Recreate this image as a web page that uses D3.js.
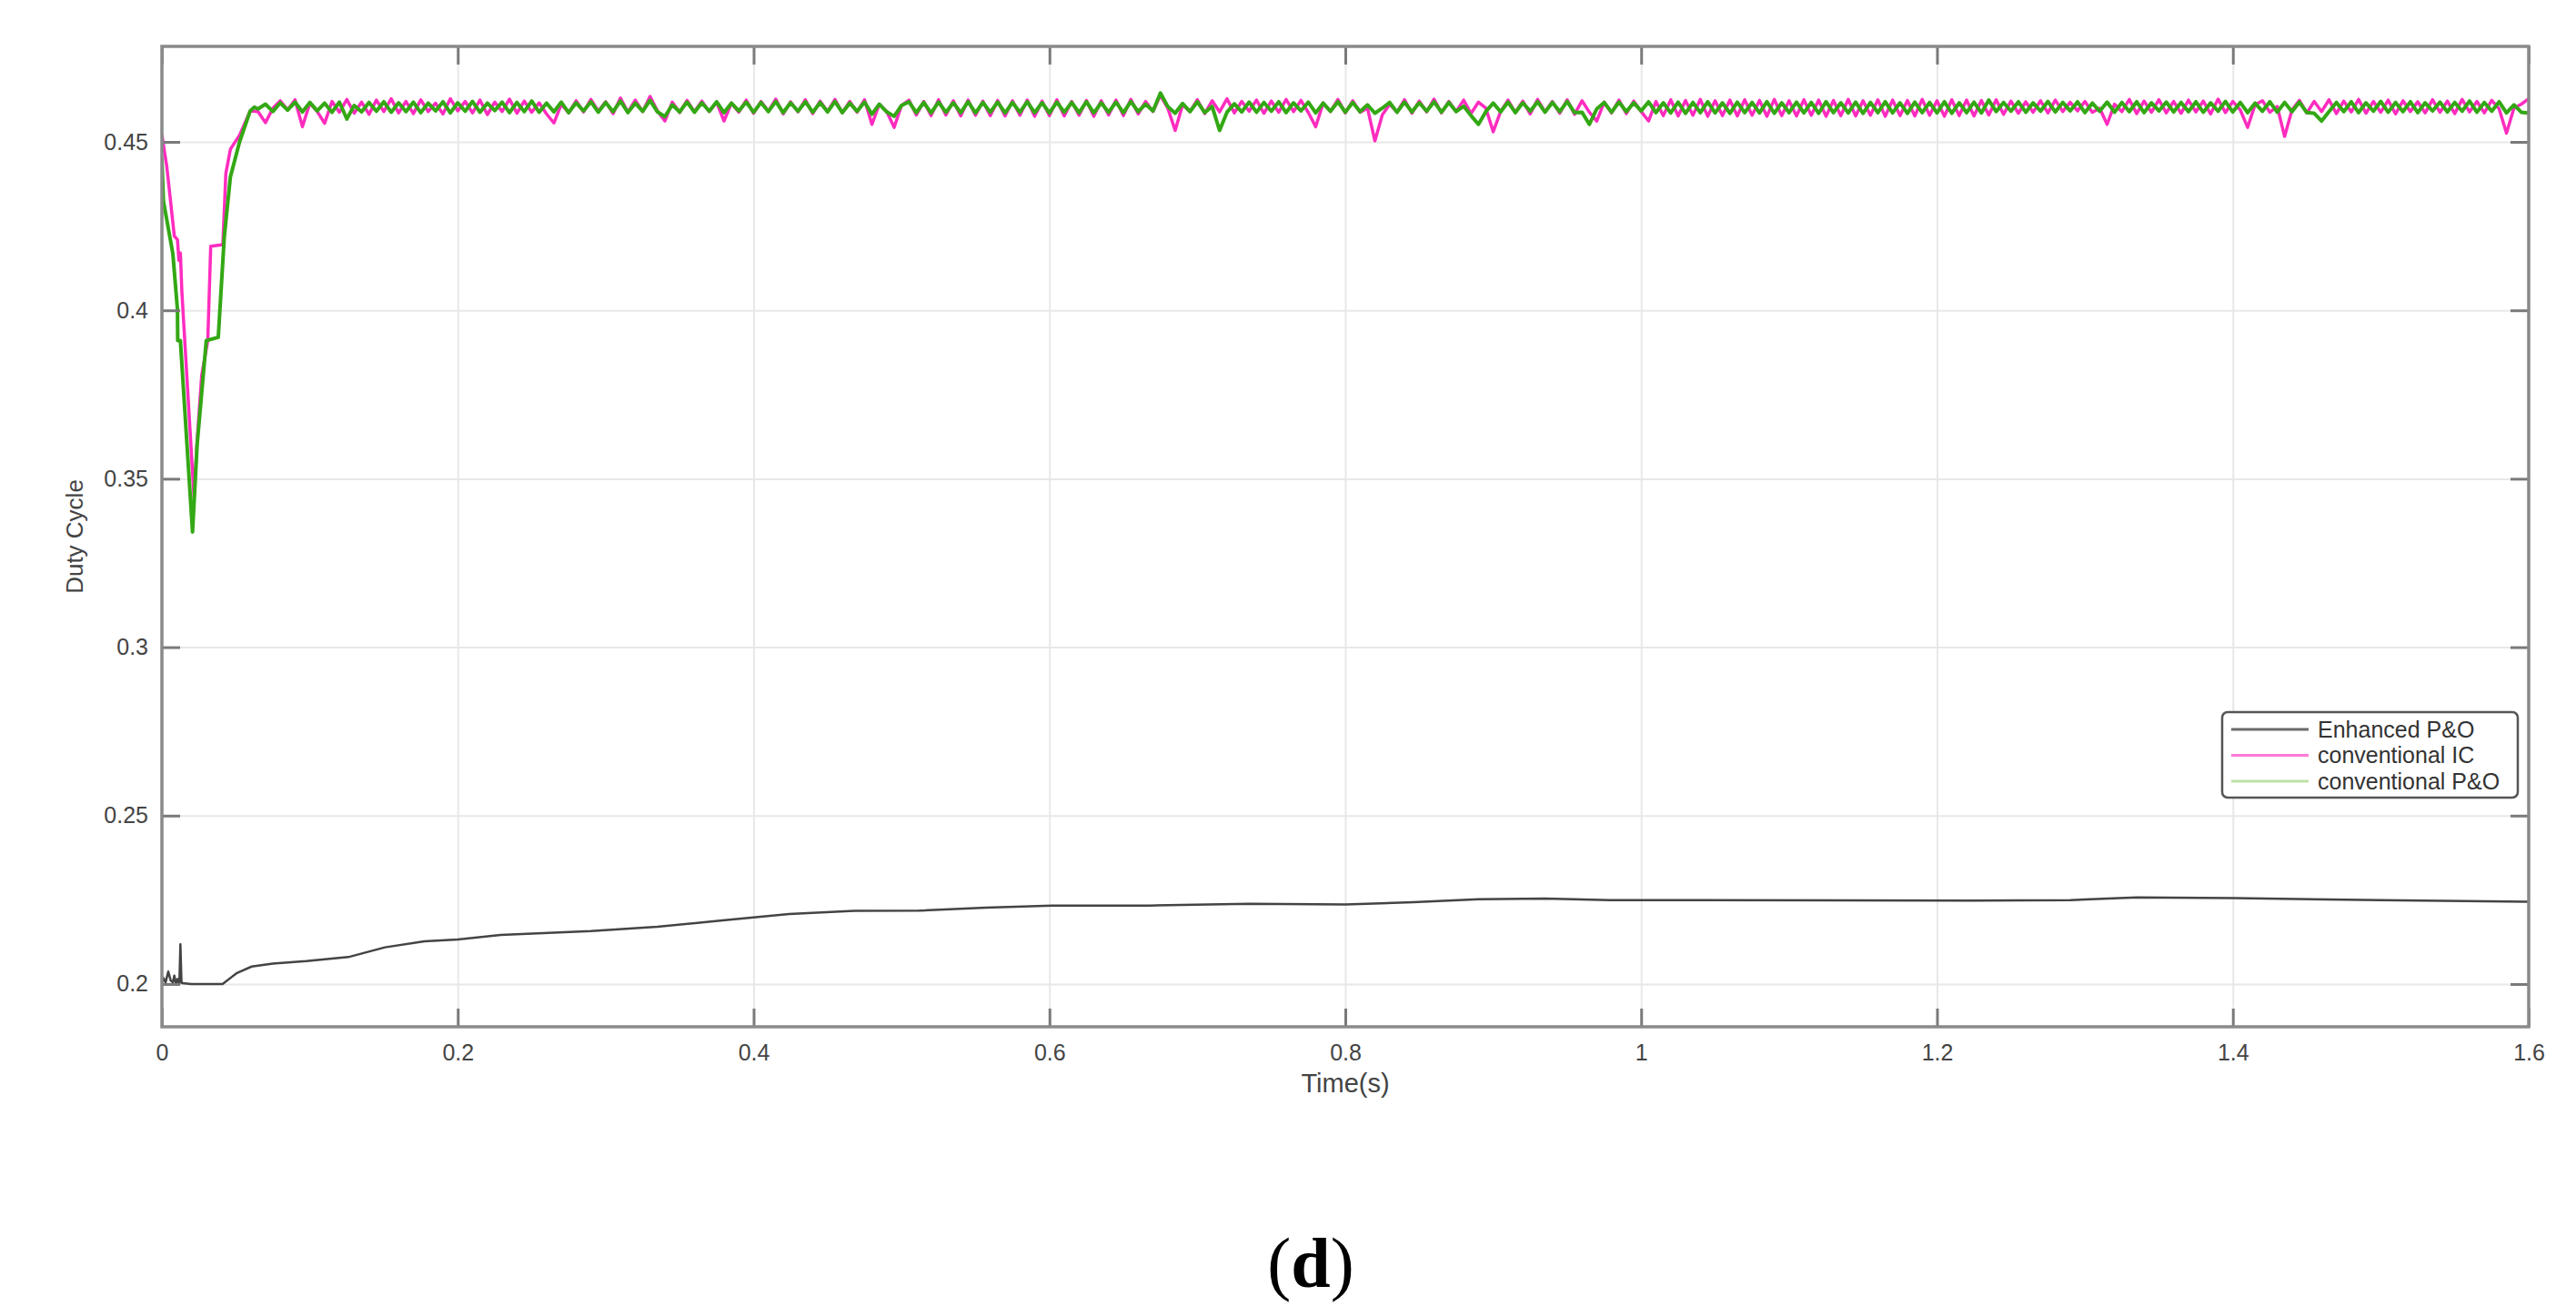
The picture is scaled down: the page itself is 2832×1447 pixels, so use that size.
<!DOCTYPE html>
<html>
<head>
<meta charset="utf-8">
<style>
body{
  margin: 0;
  background-color: white;
}
svg{
  display: block;
}
.grid .tick line{
  stroke: #e8e8e8;
  stroke-width: 2px;
}
.grid path{
  stroke-width: 0;
}
.tick-axis path{
  stroke-width: 0;
}
.tick-axis .tick line{
  stroke: #7a7a7a;
  stroke-width: 3px;
}
.tick-axis text{
  font-family: "Liberation Sans", Arial, sans-serif;
  font-size: 25px;
  fill: #444;
}
.series{
  fill: none;
  stroke-linejoin: round;
  stroke-linecap: round;
}
</style>
</head>
<body>
<script src="https://cdn.jsdelivr.net/npm/d3@7"></script>
<script>
  var WIDTH = 2832;
  var HEIGHT = 1447;
  var LEFT = 178, RIGHT = 2780, TOP = 51, BOTTOM = 1129;

  var xTicks = [0, 0.2, 0.4, 0.6, 0.8, 1, 1.2, 1.4, 1.6];
  var yTicks = [0.2, 0.25, 0.3, 0.35, 0.4, 0.45];
  var legendNames = ["Enhanced P&O", "conventional IC", "conventional P&O"];

  // enhanced P&O (black)
  var enhT = [0, 0.0008, 0.0025, 0.0043, 0.006, 0.0074, 0.0084, 0.0095, 0.0105, 0.0118, 0.0125, 0.0132, 0.0135,
    0.02, 0.041, 0.0504, 0.0607, 0.075, 0.0976, 0.126, 0.1508, 0.1775, 0.2, 0.229, 0.29, 0.335, 0.379, 0.424,
    0.468, 0.512, 0.557, 0.602, 0.668, 0.735, 0.8, 0.846, 0.89, 0.935, 0.979, 1.046, 1.224, 1.29, 1.335, 1.401, 1.5, 1.6];
  var enhV = [0.2, 0.2019, 0.2005, 0.2037, 0.201, 0.2005, 0.2025, 0.2, 0.2015, 0.2, 0.2118, 0.201, 0.2003,
    0.2, 0.2, 0.2032, 0.2052, 0.2061, 0.2068, 0.208, 0.2109, 0.2127, 0.2132, 0.2146, 0.2157, 0.217, 0.2189, 0.2208,
    0.2217, 0.2218, 0.2227, 0.2233, 0.2233, 0.2238, 0.2236, 0.2243, 0.2252, 0.2254, 0.2249, 0.2249, 0.2248, 0.2249, 0.2257, 0.2255, 0.2249, 0.2244];

  // start-up transients
  var icStartT = [0, 0.0033, 0.0084, 0.0105, 0.0115, 0.0125, 0.0135, 0.0217, 0.0238, 0.0269, 0.031, 0.033, 0.0412, 0.0432, 0.0463, 0.0525, 0.0597];
  var icStartV = [0.452, 0.4427, 0.422, 0.421, 0.4148, 0.417, 0.4055, 0.3445, 0.3612, 0.3807, 0.391, 0.419, 0.4195, 0.4406, 0.4478, 0.452, 0.4592];
  var poStartT = [0, 0.001, 0.0074, 0.0105, 0.0107, 0.0125, 0.0207, 0.0238, 0.03, 0.0381, 0.0422, 0.0463, 0.0525, 0.0597, 0.0625];
  var poStartV = [0.4448, 0.4325, 0.4168, 0.4003, 0.391, 0.391, 0.3342, 0.36, 0.391, 0.392, 0.422, 0.4396, 0.45, 0.4592, 0.4603];

  // steady state, sampled every 5 ms from 0.065 s
  var SS_START = 0.065, SS_STEP = 0.005;
  var icSteady = [
    .4590,.4557,.4600,.4622,.4595,.4625,.4545,.4615,.4590,.4555,.4620,.4588,.4626,.4585,.4618,.4582,.4624,.4590,.4628,.4586,
    .4620,.4584,.4625,.4590,.4615,.4583,.4628,.4592,.4620,.4586,.4624,.4581,.4618,.4590,.4627,.4585,.4621,.4588,.4616,.4583,
    .4556,.4612,.4586,.4622,.4589,.4626,.4591,.4619,.4584,.4630,.4588,.4624,.4590,.4635,.4592,.4562,.4618,.4587,.4623,.4589,
    .4621,.4590,.4618,.4562,.4615,.4588,.4624,.4585,.4620,.4591,.4627,.4583,.4619,.4589,.4625,.4584,.4621,.4590,.4626,.4586,
    .4620,.4588,.4625,.4552,.4612,.4590,.4543,.4608,.4624,.4580,.4620,.4578,.4625,.4580,.4622,.4577,.4624,.4579,.4621,.4578,
    .4623,.4577,.4622,.4579,.4624,.4576,.4621,.4578,.4625,.4577,.4620,.4579,.4623,.4576,.4622,.4580,.4624,.4578,.4626,.4583,
    .4620,.4590,.4638,.4600,.4534,.4610,.4590,.4625,.4584,.4622,.4589,.4628,.4586,.4620,.4591,.4624,.4585,.4621,.4588,.4626,
    .4590,.4623,.4587,.4545,.4615,.4590,.4626,.4586,.4622,.4588,.4600,.4503,.4580,.4612,.4588,.4625,.4585,.4621,.4589,.4627,
    .4586,.4620,.4590,.4624,.4584,.4618,.4600,.4530,.4590,.4624,.4587,.4621,.4583,.4626,.4589,.4620,.4585,.4625,.4582,.4622,
    .4588,.4562,.4618,.4586,.4624,.4584,.4621,.4590,.4562,.4620,.4578,.4625,.4577,.4623,.4579,.4626,.4576,.4622,.4578,.4624,
    .4577,.4625,.4579,.4623,.4576,.4626,.4578,.4622,.4577,.4625,.4579,.4624,.4576,.4623,.4578,.4626,.4577,.4622,.4579,.4625,
    .4576,.4624,.4578,.4623,.4577,.4626,.4579,.4622,.4576,.4625,.4578,.4624,.4577,.4623,.4580,.4625,.4582,.4621,.4585,.4619,
    .4588,.4622,.4586,.4624,.4590,.4618,.4592,.4620,.4588,.4600,.4552,.4612,.4590,.4626,.4584,.4621,.4588,.4625,.4586,.4620,
    .4585,.4624,.4589,.4621,.4583,.4627,.4587,.4620,.4595,.4543,.4610,.4622,.4588,.4605,.4516,.4595,.4623,.4586,.4620,.4590,
    .4625,.4584,.4621,.4589,.4626,.4585,.4620,.4588,.4624,.4583,.4622,.4590,.4619,.4586,.4625,.4588,.4621,.4584,.4626,.4589,
    .4620,.4586,.4623,.4598,.4526,.4600,.4612,.4628];
  var poSteady = [
    .4598,.4612,.4590,.4616,.4594,.4618,.4589,.4617,.4592,.4615,.4588,.4618,.4568,.4608,.4589,.4617,.4591,.4619,.4588,.4616,
    .4590,.4618,.4587,.4615,.4592,.4619,.4586,.4616,.4591,.4620,.4588,.4615,.4593,.4618,.4587,.4617,.4590,.4621,.4588,.4615,
    .4589,.4618,.4587,.4616,.4592,.4619,.4588,.4617,.4590,.4621,.4587,.4615,.4591,.4623,.4589,.4575,.4610,.4589,.4618,.4588,
    .4616,.4591,.4619,.4587,.4615,.4592,.4618,.4588,.4617,.4590,.4620,.4587,.4616,.4591,.4619,.4588,.4617,.4589,.4620,.4587,
    .4615,.4591,.4618,.4582,.4612,.4589,.4576,.4608,.4619,.4587,.4617,.4586,.4618,.4588,.4616,.4587,.4619,.4586,.4617,.4588,
    .4618,.4586,.4617,.4588,.4619,.4587,.4616,.4586,.4618,.4588,.4617,.4587,.4619,.4586,.4616,.4588,.4618,.4587,.4620,.4590,
    .4612,.4592,.4645,.4605,.4585,.4614,.4590,.4619,.4587,.4605,.4534,.4588,.4613,.4589,.4618,.4588,.4617,.4591,.4619,.4587,
    .4616,.4592,.4618,.4586,.4615,.4591,.4619,.4588,.4617,.4590,.4610,.4585,.4600,.4617,.4588,.4618,.4589,.4616,.4591,.4619,
    .4588,.4617,.4590,.4606,.4578,.4552,.4590,.4615,.4589,.4618,.4587,.4616,.4591,.4619,.4588,.4617,.4590,.4620,.4587,.4588,
    .4552,.4598,.4617,.4588,.4618,.4590,.4616,.4592,.4619,.4587,.4616,.4586,.4618,.4585,.4617,.4587,.4619,.4586,.4616,.4585,
    .4618,.4587,.4617,.4586,.4619,.4585,.4616,.4587,.4618,.4586,.4617,.4585,.4619,.4587,.4616,.4586,.4618,.4585,.4617,.4587,
    .4619,.4586,.4616,.4585,.4618,.4587,.4617,.4586,.4619,.4585,.4616,.4587,.4618,.4586,.4624,.4590,.4617,.4591,.4619,.4588,
    .4616,.4591,.4620,.4589,.4617,.4592,.4619,.4587,.4615,.4591,.4618,.4588,.4617,.4590,.4619,.4587,.4616,.4592,.4618,.4589,
    .4617,.4590,.4619,.4588,.4616,.4591,.4620,.4589,.4617,.4587,.4615,.4591,.4619,.4588,.4617,.4590,.4618,.4587,.4585,.4562,
    .4590,.4617,.4590,.4619,.4587,.4616,.4591,.4620,.4588,.4617,.4590,.4619,.4587,.4616,.4592,.4618,.4589,.4617,.4591,.4621,
    .4588,.4617,.4591,.4619,.4586,.4610,.4588,.4586];

  var COLORS = ["#444444", "#ff2cbf", "#33a814"];
  var WIDTHS = [2.5, 3.5, 4];
  var LEGEND_COLORS = ["#6a6a6a", "#ff7ad8", "#bde3a6"];

  function joinSeries(startT, startV, steady){
    var pts = startT.map((t, i) => [t, startV[i]]);
    steady.forEach((v, i) => pts.push([SS_START + i * SS_STEP, v]));
    return pts;
  }

  var enhPoints = enhT.map((t, i) => [t, enhV[i]]);
  var icPoints = joinSeries(icStartT, icStartV, icSteady);
  var poPoints = joinSeries(poStartT, poStartV, poSteady);

  var xScale = d3.scaleLinear()
    .domain([0, 1.6])
    .range([LEFT, RIGHT]);

  var yScale = d3.scaleLinear()
    .domain([0.18731, 0.47835])
    .range([BOTTOM, TOP]);

  var valueline = d3.line()
    .x(function(d) { return xScale(d[0]); })
    .y(function(d) { return yScale(d[1]); });

  var svg = d3.select("body").append("svg")
    .attr("width", WIDTH)
    .attr("height", HEIGHT);

  svg.append("rect")
    .attr("width", WIDTH).attr("height", HEIGHT)
    .attr("fill", "white");

  svg.append("defs").append("clipPath")
    .attr("id", "plotClip")
    .append("rect")
      .attr("x", LEFT).attr("y", TOP)
      .attr("width", RIGHT - LEFT).attr("height", BOTTOM - TOP);

  drawGrid();
  drawLines();
  drawAxes();
  drawLegend();
  drawLabels();

  function drawGrid(){
    svg.append("g")
      .attr("class", "grid")
      .attr("transform", `translate(0,${BOTTOM})`)
      .call(d3.axisBottom(xScale).tickValues(xTicks).tickSize(-(BOTTOM - TOP)).tickFormat(""));

    svg.append("g")
      .attr("class", "grid")
      .attr("transform", `translate(${LEFT},0)`)
      .call(d3.axisLeft(yScale).tickValues(yTicks).tickSize(-(RIGHT - LEFT)).tickFormat(""));
  }

  function drawLines(){
    var plotArea = svg.append("g")
      .attr("clip-path", "url(#plotClip)");

    plotArea.selectAll("path.series")
      .data([enhPoints, icPoints, poPoints])
      .enter()
      .append("path")
        .attr("class", "series")
        .attr("d", (d) => valueline(d))
        .attr("stroke", (d, i) => COLORS[i])
        .attr("stroke-width", (d, i) => WIDTHS[i]);
  }

  function drawAxes(){
    var fmt = (d) => d3.format("")(+d.toFixed(2));

    // ticks point inward on all four sides, labels only bottom/left
    svg.append("g")
      .attr("class", "tick-axis")
      .attr("transform", `translate(0,${BOTTOM})`)
      .call(d3.axisBottom(xScale).tickValues(xTicks).tickSizeInner(-20).tickSizeOuter(0).tickPadding(19).tickFormat(fmt));

    svg.append("g")
      .attr("class", "tick-axis")
      .attr("transform", `translate(0,${TOP})`)
      .call(d3.axisTop(xScale).tickValues(xTicks).tickSizeInner(-20).tickSizeOuter(0).tickFormat(""));

    svg.append("g")
      .attr("class", "tick-axis")
      .attr("transform", `translate(${LEFT},0)`)
      .call(d3.axisLeft(yScale).tickValues(yTicks).tickSizeInner(-20).tickSizeOuter(0).tickPadding(15).tickFormat(fmt));

    svg.append("g")
      .attr("class", "tick-axis")
      .attr("transform", `translate(${RIGHT},0)`)
      .call(d3.axisRight(yScale).tickValues(yTicks).tickSizeInner(-20).tickSizeOuter(0).tickFormat(""));

    // box
    svg.append("rect")
      .attr("x", LEFT).attr("y", TOP)
      .attr("width", RIGHT - LEFT).attr("height", BOTTOM - TOP)
      .attr("fill", "none")
      .attr("stroke", "#8a8a8a")
      .attr("stroke-width", 3.5);
  }

  function drawLegend(){
    var lg = svg.append("g").attr("class", "legend");
    lg.append("rect")
      .attr("x", 2443).attr("y", 783)
      .attr("width", 325).attr("height", 94)
      .attr("rx", 6)
      .attr("fill", "white")
      .attr("stroke", "#555")
      .attr("stroke-width", 2.5);

    var rows = lg.selectAll("g.row")
      .data(legendNames)
      .enter()
      .append("g")
        .attr("class", "row")
        .attr("transform", (d, i) => `translate(2453,${802 + i * 28.5})`);

    rows.append("line")
      .attr("x1", 0).attr("x2", 85)
      .attr("stroke", (d, i) => LEGEND_COLORS[i])
      .attr("stroke-width", 3);

    rows.append("text")
      .attr("x", 95)
      .attr("dy", "0.35em")
      .style("font-family", "'Liberation Sans', Arial, sans-serif")
      .style("font-size", "25px")
      .attr("fill", "#333")
      .text((d) => d);
  }

  function drawLabels(){
    svg.append("text")
      .attr("transform", `translate(82,${(TOP + BOTTOM) / 2}) rotate(-90)`)
      .attr("text-anchor", "middle")
      .attr("dy", "0.35em")
      .style("font-family", "'Liberation Sans', Arial, sans-serif")
      .style("font-size", "26px")
      .attr("fill", "#444")
      .text("Duty Cycle");

    svg.append("text")
      .attr("x", (LEFT + RIGHT) / 2)
      .attr("y", 1201)
      .attr("text-anchor", "middle")
      .style("font-family", "'Liberation Sans', Arial, sans-serif")
      .style("font-size", "29px")
      .attr("fill", "#444")
      .text("Time(s)");

    var cap = svg.append("text")
      .attr("x", 1441)
      .attr("y", 1415)
      .attr("text-anchor", "middle")
      .style("font-family", "'Liberation Serif', 'Times New Roman', serif")
      .style("font-size", "78px")
      .attr("fill", "black");
    cap.append("tspan").text("(");
    cap.append("tspan").style("font-weight", "bold").text("d");
    cap.append("tspan").text(")");
  }
</script>
</body>
</html>
